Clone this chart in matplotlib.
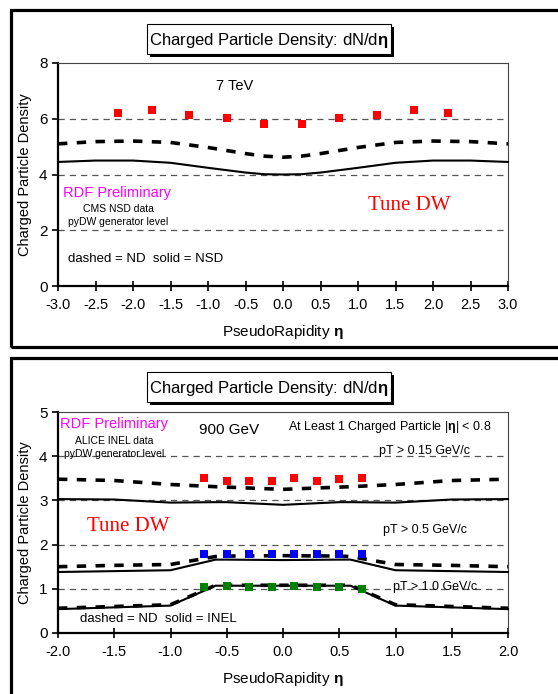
import matplotlib
matplotlib.use("Agg")
import matplotlib.pyplot as plt
from matplotlib.patches import Rectangle

plt.rcParams['font.family'] = ['Liberation Sans', 'DejaVu Sans']
plt.rcParams['mathtext.fontset'] = 'custom'
plt.rcParams['mathtext.rm'] = 'Liberation Sans'
plt.rcParams['mathtext.bf'] = 'Liberation Sans:bold'
plt.rcParams['mathtext.it'] = 'Liberation Sans:italic'

# ---- 7 TeV panel data ----
eta_cms = [-2.2, -1.75, -1.25, -0.75, -0.25, 0.25, 0.75, 1.25, 1.75, 2.2]
dndeta_cms = [6.2, 6.3, 6.15, 6.03, 5.82, 5.82, 6.03, 6.15, 6.3, 6.2]

eta_top = [-3.0, -2.5, -2.0, -1.5, -1.0, -0.5, -0.25, 0.0, 0.25, 0.5, 1.0, 1.5, 2.0, 2.5, 3.0]
nd_top = [5.1, 5.18, 5.2, 5.15, 4.97, 4.75, 4.66, 4.62, 4.66, 4.75, 4.97, 5.15, 5.2, 5.18, 5.1]
nsd_top = [4.45, 4.5, 4.5, 4.42, 4.24, 4.07, 4.01, 4.0, 4.01, 4.07, 4.24, 4.42, 4.5, 4.5, 4.45]

# ---- 900 GeV panel data ----
eta_alice = [-0.7, -0.5, -0.3, -0.1, 0.1, 0.3, 0.5, 0.7]
alice_015 = [3.5, 3.45, 3.43, 3.43, 3.5, 3.45, 3.48, 3.5]
alice_05 = [1.78, 1.78, 1.78, 1.78, 1.78, 1.78, 1.78, 1.78]
alice_10 = [1.05, 1.06, 1.03, 1.03, 1.06, 1.04, 1.03, 1.0]

eta_bot = [-2.0, -1.5, -1.0, -0.6, -0.5, 0.0, 0.5, 0.6, 1.0, 1.5, 2.0]
nd_015 = [3.48, 3.45, 3.36, 3.31, 3.3, 3.25, 3.3, 3.31, 3.36, 3.45, 3.48]
inel_015 = [3.03, 3.02, 2.95, 2.96, 2.96, 2.9, 2.96, 2.96, 2.95, 3.02, 3.03]
nd_05 = [1.5, 1.53, 1.55, 1.73, 1.74, 1.75, 1.74, 1.73, 1.55, 1.53, 1.5]
inel_05 = [1.38, 1.4, 1.42, 1.66, 1.66, 1.65, 1.66, 1.66, 1.42, 1.4, 1.38]
nd_10 = [0.56, 0.6, 0.64, 1.08, 1.08, 1.08, 1.08, 1.08, 0.64, 0.6, 0.56]
inel_10 = [0.54, 0.58, 0.62, 1.07, 1.07, 1.07, 1.07, 1.07, 0.62, 0.58, 0.54]

W, H = 558, 694
fig = plt.figure(figsize=(W / 100, H / 100), dpi=100)


def px_axes(l, t, r, b):
    return fig.add_axes([l / W, 1 - b / H, (r - l) / W, (b - t) / H])


def frame(t, b):
    fig.patches.append(Rectangle((10.5 / W, 1 - b / H), 600 / W, (b - t) / H,
                                 transform=fig.transFigure, fill=False,
                                 lw=2.3, ec='black'))


def title_box(t):
    l, r, h = 147, 391, 30
    fig.patches.append(Rectangle(((l + 3) / W, 1 - (t + h + 3) / H), (r - l) / W, h / H,
                                 transform=fig.transFigure, fc='black', ec='none'))
    fig.patches.append(Rectangle((l / W, 1 - (t + h) / H), (r - l) / W, h / H,
                                 transform=fig.transFigure, fc='white', ec='black', lw=0.8))
    fig.text((l + r) / 2 / W, 1 - (t + h / 2 + 1) / H,
             'Charged Particle Density: dN/d$\\mathbf{\\eta}$',
             ha='center', va='center', fontsize=12)


def style(ax, xlim, ylim, xticks, yticks, grid):
    ax.set_xlim(*xlim)
    ax.set_ylim(*ylim)
    ax.set_xticks(xticks)
    ax.set_xticklabels([f'{v:.1f}' for v in xticks])
    ax.set_yticks(yticks)
    for g in grid:
        ax.axhline(g, color='#555555', lw=0.9, ls=(0, (5, 4)), zorder=1)
    for s in ['left', 'bottom']:
        ax.spines[s].set_linewidth(1.6)
    for s in ['top', 'right']:
        ax.spines[s].set_linewidth(0.8)
        ax.spines[s].set_color('#444444')
    ax.tick_params(axis='x', direction='inout', length=7, width=1.2, labelsize=10.5, pad=5)
    ax.tick_params(axis='y', direction='out', length=4, width=1.2, labelsize=11)
    ax.set_xlabel('PseudoRapidity $\\mathbf{\\eta}$', fontsize=11, labelpad=8)
    ax.set_ylabel('Charged Particle Density', fontsize=10.5, labelpad=5)


dash_style = dict(color='black', lw=2.6, ls=(0, (2.6, 2.6)), zorder=3, clip_on=False)
solid_style = dict(color='black', lw=1.5, zorder=3, clip_on=False)
mk = dict(ls='none', marker='s', ms=5.5, mew=0, zorder=5)

# ---------------- top panel ----------------
frame(9.5, 346.5)
title_box(24)
ax1 = px_axes(58, 63, 508, 286)
style(ax1, (-3, 3), (0, 8), [-3 + 0.5 * i for i in range(13)], [0, 2, 4, 6, 8], [2, 4, 6])
ax1.plot(eta_top, nd_top, **dash_style)
ax1.plot(eta_top, nsd_top, **solid_style)
ax1.plot(eta_cms, dndeta_cms, color='#ff0000', **mk)
ax1.text(-0.65, 7.17, '7 TeV', ha='center', va='center', fontsize=10.5)
ax1.text(-2.21, 3.34, 'RDF Preliminary', ha='center', va='center', fontsize=10.5, color='#ff00ff')
ax1.text(-2.2, 2.78, 'CMS NSD data', ha='center', va='center', fontsize=7.5)
ax1.text(-2.2, 2.3, 'pyDW generator level', ha='center', va='center', fontsize=7.5)
ax1.text(-1.83, 0.97, 'dashed = ND  solid = NSD', ha='center', va='center', fontsize=9.5)
ax1.text(1.68, 2.9, 'Tune DW', ha='center', va='center', fontsize=15, color='#ff0000',
         family='Liberation Serif')

# ---------------- bottom panel ----------------
frame(357.5, 720)
title_box(372)
ax2 = px_axes(58, 412, 508, 633)
style(ax2, (-2, 2), (0, 5), [-2 + 0.5 * i for i in range(9)], [0, 1, 2, 3, 4, 5], [1, 2, 3, 4])
for nd, inel in [(nd_015, inel_015), (nd_05, inel_05), (nd_10, inel_10)]:
    ax2.plot(eta_bot, nd, **dash_style)
    ax2.plot(eta_bot, inel, **solid_style)
ax2.plot(eta_alice, alice_015, color='#ff0000', **mk)
ax2.plot(eta_alice, alice_05, color='#0000ff', **mk)
ax2.plot(eta_alice, alice_10, color='#008000', **mk)
ax2.text(-1.5, 4.73, 'RDF Preliminary', ha='center', va='center', fontsize=10.5, color='#ff00ff')
ax2.text(-1.5, 4.35, 'ALICE INEL data', ha='center', va='center', fontsize=7.5)
ax2.text(-1.5, 4.05, 'pyDW generator level', ha='center', va='center', fontsize=7.5)
ax2.text(-0.48, 4.59, '900 GeV', ha='center', va='center', fontsize=11)
ax2.text(0.95, 4.67, 'At Least 1 Charged Particle |$\\mathbf{\\eta}$| < 0.8',
         ha='center', va='center', fontsize=9)
ax2.text(1.26, 4.12, 'pT > 0.15 GeV/c', ha='center', va='center', fontsize=9)
ax2.text(1.26, 2.33, 'pT > 0.5 GeV/c', ha='center', va='center', fontsize=9)
ax2.text(1.35, 1.04, 'pT > 1.0 GeV/c', ha='center', va='center', fontsize=9)
ax2.text(-1.38, 2.4, 'Tune DW', ha='center', va='center', fontsize=15, color='#ff0000',
         family='Liberation Serif')
ax2.text(-1.11, 0.32, 'dashed = ND  solid = INEL', ha='center', va='center', fontsize=9.5)

fig.savefig('out.png', dpi=100)
